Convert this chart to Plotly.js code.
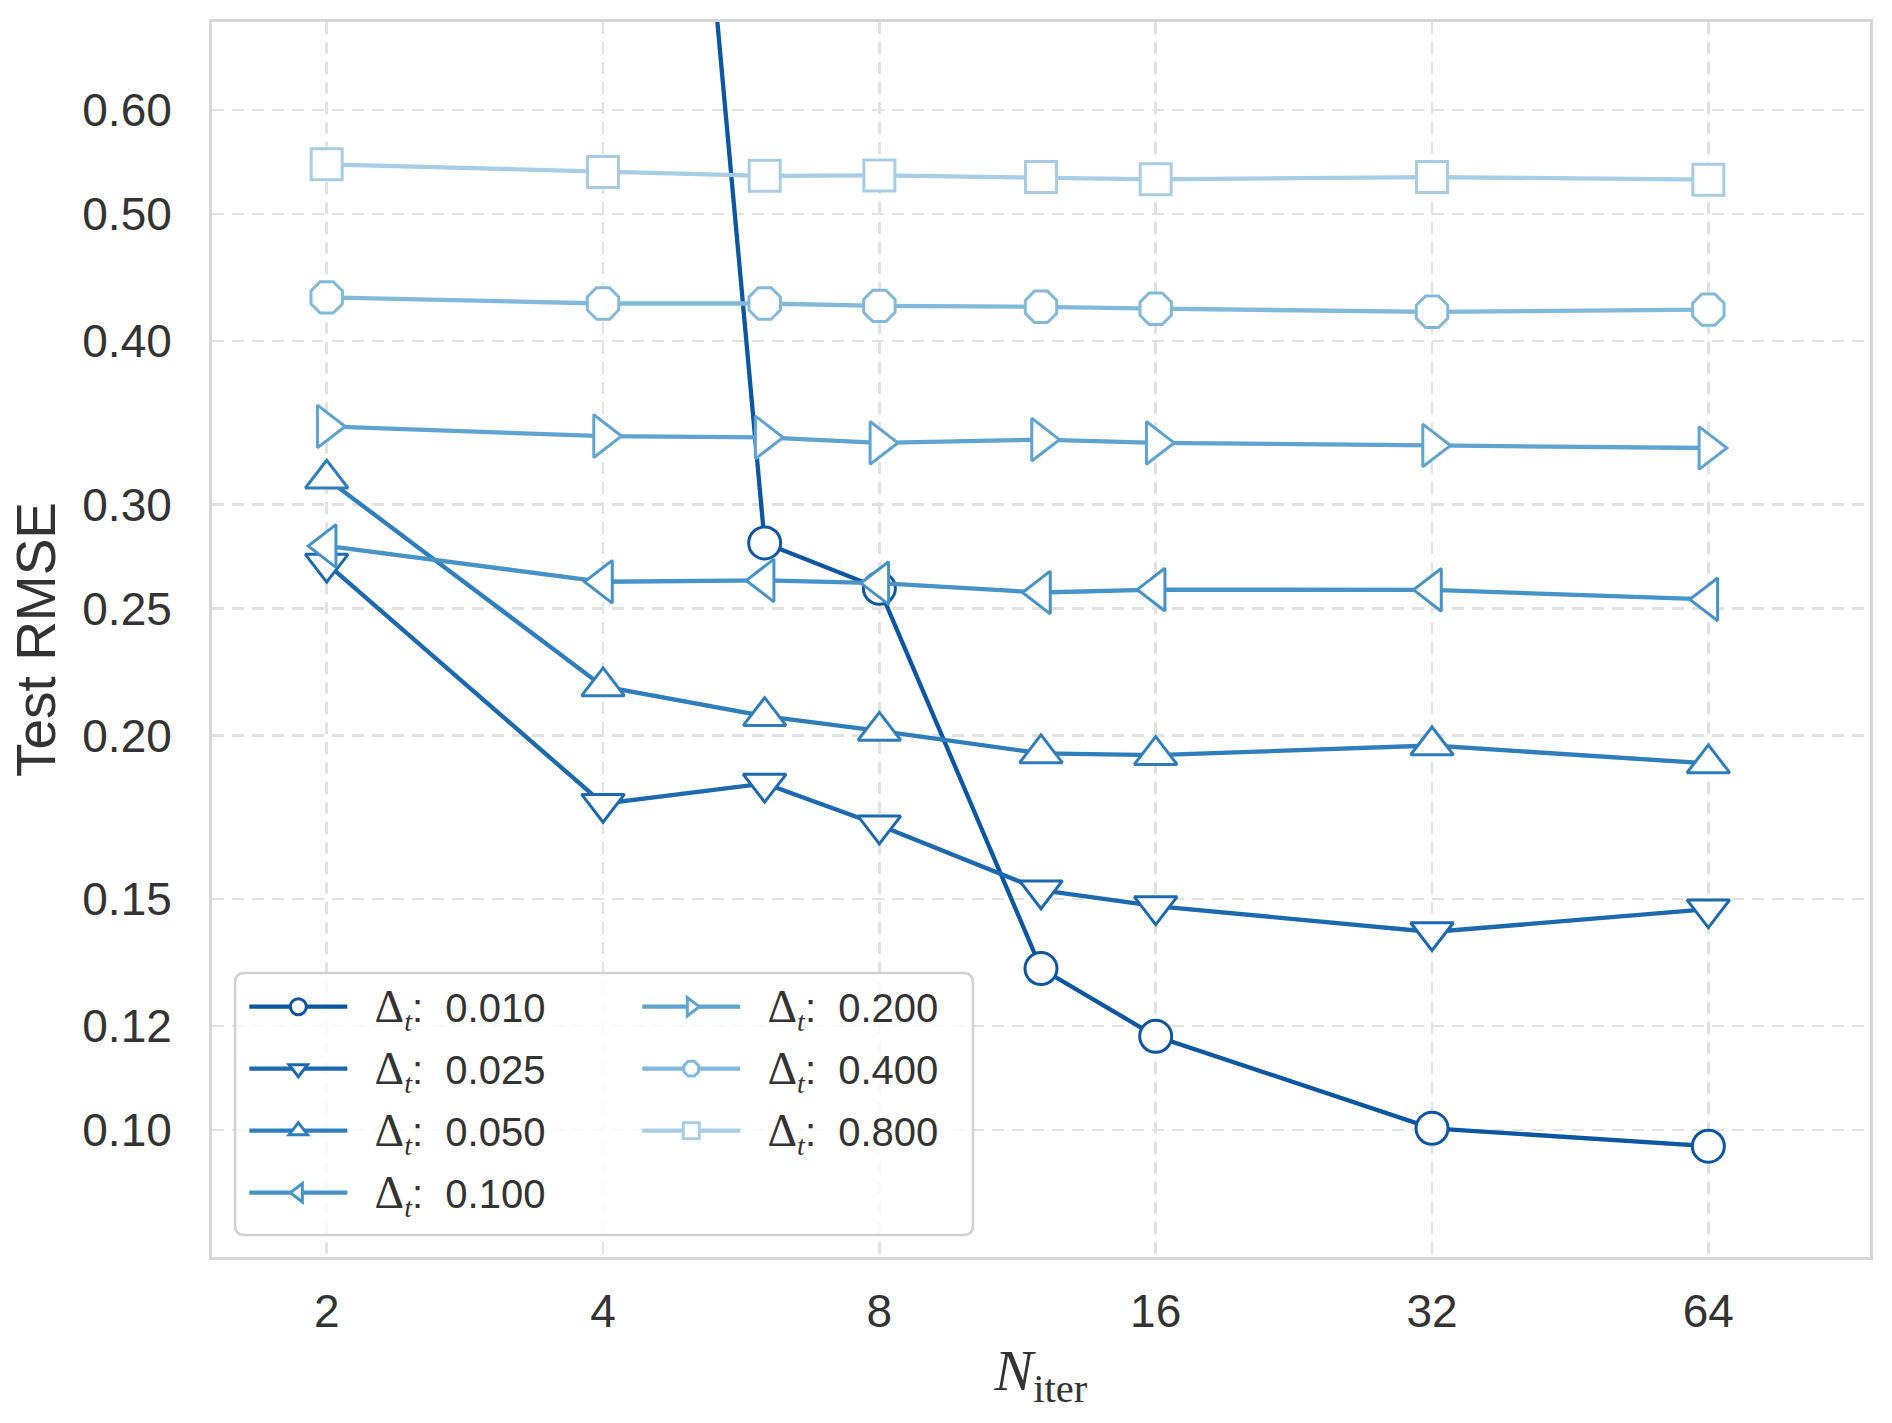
<!DOCTYPE html>
<html>
<head>
<meta charset="utf-8">
<script src="https://cdn.plot.ly/plotly-3.0.1.min.js"></script>
<style>html,body{margin:0;padding:0;background:#fff}</style>
</head>
<body>
<div id="chart" style="width:1892px;height:1423px"></div>
<script>
// iterations on x, one RMSE series per time step
const nIter = [2, 4, 6, 8, 12, 16, 32, 64]
const dt010 = [9.5, 6.4, 0.2805, 0.2590, 0.1328, 0.1179, 0.1003, 0.0972]
const dt025 = [0.2705, 0.1774, 0.1838, 0.1708, 0.1524, 0.1482, 0.1416, 0.1474]
const dt050 = [0.3140, 0.2180, 0.2069, 0.2016, 0.1938, 0.1932, 0.1965, 0.1904]
const dt100 = [0.2790, 0.2620, 0.2626, 0.2614, 0.2571, 0.2584, 0.2583, 0.2540]
const dt200 = [0.3442, 0.3384, 0.3376, 0.3344, 0.3363, 0.3344, 0.3329, 0.3314]
const dt400 = [0.4318, 0.4272, 0.4272, 0.4254, 0.4247, 0.4233, 0.4210, 0.4226]
const dt800 = [0.5455, 0.5381, 0.5346, 0.5350, 0.5334, 0.5313, 0.5334, 0.5310]

const dtLabels = ['0.010', '0.025', '0.050', '0.100', '0.200', '0.400', '0.800']
const xTicks = [2, 4, 8, 16, 32, 64]
const yTicks = [0.10, 0.12, 0.15, 0.20, 0.25, 0.30, 0.40, 0.50, 0.60]

const series = [dt010, dt025, dt050, dt100, dt200, dt400, dt800]
const colors = ['#0d56a1', '#1b69ae', '#2f7ebc', '#4593c7', '#5fa4d1', '#80b9da', '#a7cde4']
const symbols = ['circle', 'triangle-down', 'triangle-up', 'triangle-left', 'triangle-right', 'octagon', 'square']
const sizes = [32, 37, 37, 37, 37, 34, 31]

const txt = '#333333'
const sans = 'Liberation Sans, Arial, sans-serif'
const serif = 'Liberation Serif, Times New Roman, serif'

function dtName(label) {
  return '&nbsp;&nbsp;<span style="font-family:Liberation Serif;font-size:46px">Δ</span>' +
    '<span style="font-family:Liberation Serif"><sub><i>t</i></sub></span>:&nbsp;&nbsp;' + label
}

let traces = series.map((y, i) => ({
  x: nIter,
  y,
  type: 'scatter',
  mode: 'lines+markers',
  name: dtName(dtLabels[i]),
  legend: i < 4 ? 'legend' : 'legend2',
  legendgroup: 'g' + i,
  line: {color: colors[i], width: 4.3},
  marker: {symbol: symbols[i], size: sizes[i], color: 'white', line: {color: colors[i], width: 3}},
}))

// one rounded frame behind both legend columns
let bx0 = 0.0139, bx1 = 0.459, by0 = 0.0178, by1 = 0.23
let rx = 0.006, ry = 0.0081
let boxPath = `M${bx0+rx},${by0} L${bx1-rx},${by0} Q${bx1},${by0} ${bx1},${by0+ry} ` +
  `L${bx1},${by1-ry} Q${bx1},${by1} ${bx1-rx},${by1} L${bx0+rx},${by1} ` +
  `Q${bx0},${by1} ${bx0},${by1-ry} L${bx0},${by0+ry} Q${bx0},${by0} ${bx0+rx},${by0} Z`

let legendBase = {
  font: {family: sans, size: 40, color: txt},
  bgcolor: 'rgba(0,0,0,0)',
  borderwidth: 0,
  xanchor: 'left',
  yanchor: 'top',
  itemwidth: 98,
  traceorder: 'grouped',
  tracegroupgap: 7,
}

let layout = {
  width: 1892,
  height: 1423,
  margin: {l: 212, r: 22, t: 22, b: 166},
  paper_bgcolor: 'white',
  plot_bgcolor: 'white',
  showlegend: true,
  xaxis: {
    type: 'log',
    range: [Math.log10(1.5), Math.log10(96)],
    tickvals: xTicks,
    ticktext: xTicks.map(String),
    ticks: '',
    ticklabelstandoff: 12,
    tickfont: {family: sans, size: 46, color: txt},
    showgrid: true,
    gridcolor: '#e2e2e2',
    gridwidth: 2.5,
    griddash: '12px,8px',
    showline: true,
    linecolor: '#d6d6d6',
    linewidth: 3,
    mirror: true,
    title: {
      text: '<i>N</i><sub>iter</sub>',
      font: {family: serif, size: 58, color: txt},
      standoff: 14,
    },
  },
  yaxis: {
    type: 'log',
    range: [Math.log10(0.08), Math.log10(0.7005)],
    tickvals: yTicks,
    ticktext: yTicks.map(v => v.toFixed(2)),
    ticks: '',
    ticklabelstandoff: 28,
    tickfont: {family: sans, size: 46, color: txt},
    showgrid: true,
    gridcolor: '#e2e2e2',
    gridwidth: 2.5,
    griddash: '12px,8px',
    showline: true,
    linecolor: '#d6d6d6',
    linewidth: 3,
    mirror: true,
    title: {
      text: 'Test RMSE',
      font: {family: sans, size: 55, color: txt},
      standoff: 10,
    },
  },
  legend: Object.assign({}, legendBase, {x: 0.0195, y: 0.229}),
  legend2: Object.assign({}, legendBase, {x: 0.0195 + 0.237, y: 0.229}),
  shapes: [{
    type: 'path',
    xref: 'paper',
    yref: 'paper',
    path: boxPath,
    fillcolor: 'rgba(255,255,255,0.8)',
    line: {color: '#d0d0d0', width: 2.5},
    layer: 'above',
  }],
}

Plotly.newPlot('chart', traces, layout, {displayModeBar: false, staticPlot: true})
</script>
</body>
</html>
